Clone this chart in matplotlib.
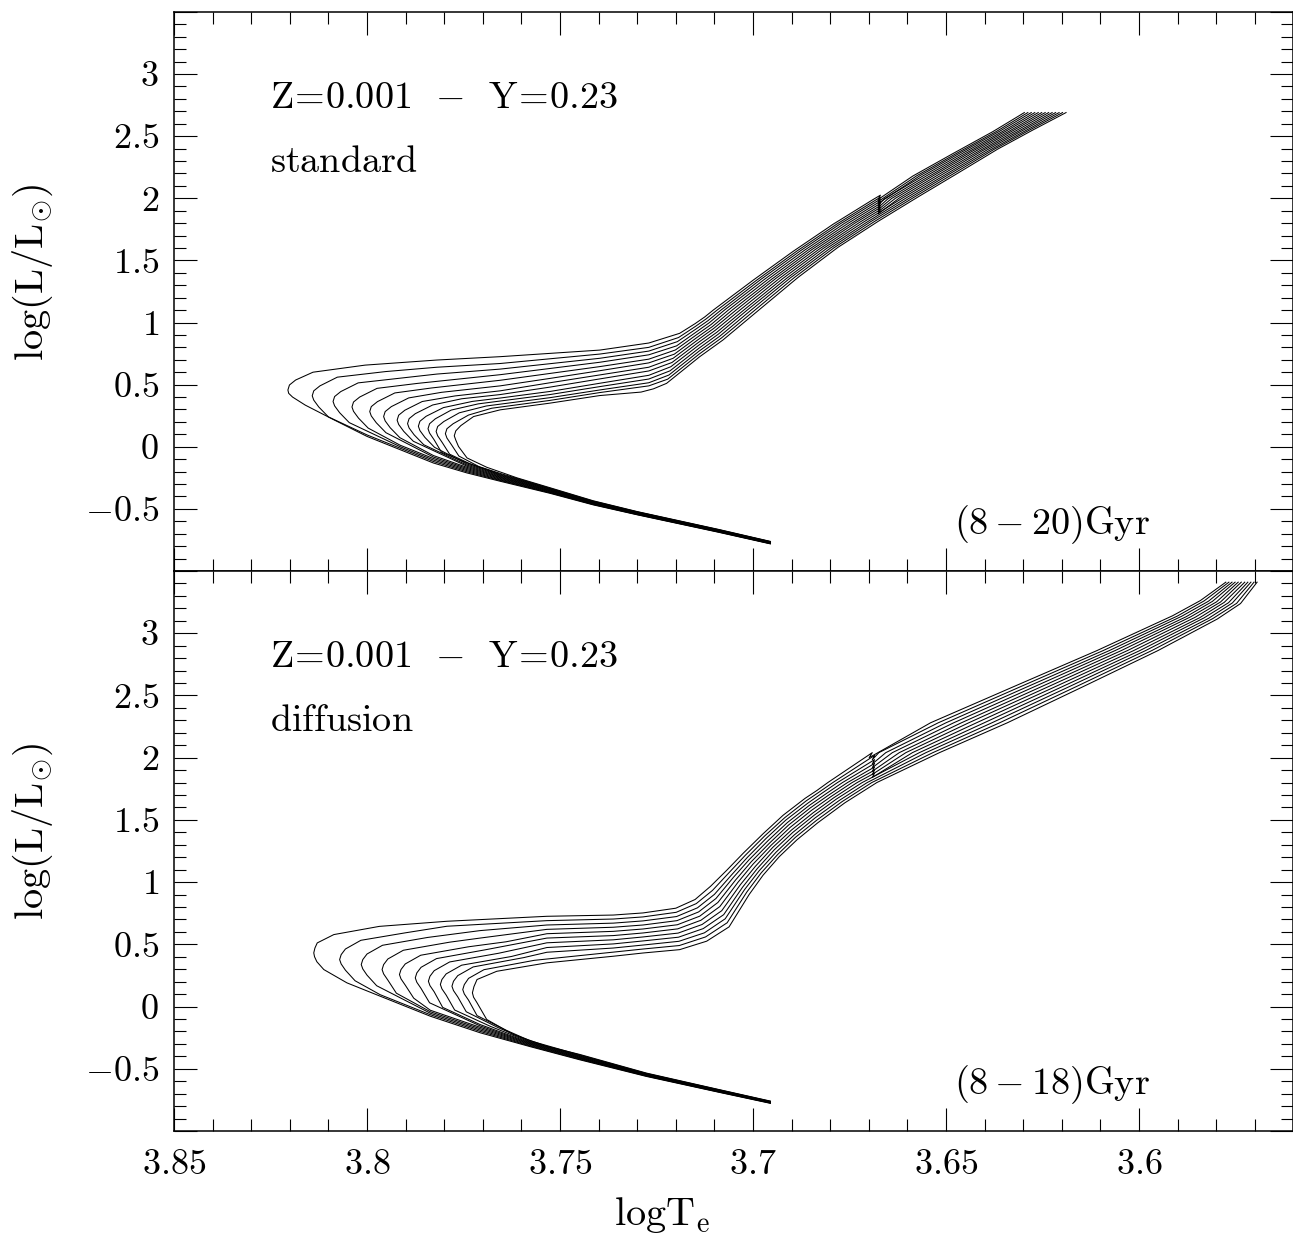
import matplotlib
matplotlib.use("Agg")
import matplotlib.pyplot as plt
from matplotlib.ticker import FixedLocator, FixedFormatter, MultipleLocator

plt.rcParams["mathtext.fontset"] = "cm"
plt.rcParams["font.family"] = "serif"
plt.rcParams["font.serif"] = ["cmr10", "DejaVu Serif"]
plt.rcParams["axes.unicode_minus"] = False

# isochrones: (logTe, log L/Lsun), young -> old
std_ages = [8, 9, 10, 11, 12, 13, 14, 15, 16, 17, 18, 19, 20]
std_tracks = [
    [(3.6955, -0.782), (3.709, -0.688), (3.730, -0.548), (3.7414, -0.468), (3.7526, -0.375), (3.7655, -0.278),
     (3.7741, -0.211), (3.7828, -0.131), (3.7914, -0.024), (3.8000, 0.083), (3.8086, 0.217), (3.8160, 0.335),
     (3.8193, 0.400), (3.8203, 0.430), (3.8205, 0.457), (3.8201, 0.497), (3.8185, 0.537), (3.8140, 0.600),
     (3.8005, 0.657), (3.7819, 0.698), (3.7655, 0.725), (3.7397, 0.778), (3.7270, 0.835), (3.7190, 0.913),
     (3.7150, 0.991), (3.7125, 1.045), (3.7103, 1.100), (3.7000, 1.340), (3.6896, 1.573), (3.6793, 1.790),
     (3.6689, 1.990), (3.6670, 2.025), (3.6676, 1.990), (3.6586, 2.179), (3.6482, 2.360), (3.6379, 2.536),
     (3.6297, 2.69)],
    [(3.6955, -0.780), (3.709, -0.686), (3.730, -0.546), (3.7414, -0.465), (3.7526, -0.371), (3.7655, -0.272),
     (3.7741, -0.202), (3.7828, -0.119), (3.7914, -0.012), (3.8000, 0.095), (3.8100, 0.240), (3.8125, 0.320),
     (3.8138, 0.375), (3.8142, 0.410), (3.8138, 0.450), (3.8122, 0.490), (3.8077, 0.560), (3.7952, 0.605),
     (3.7819, 0.640), (3.7655, 0.670), (3.7397, 0.746), (3.7270, 0.800), (3.7193, 0.879), (3.7149, 0.969),
     (3.7121, 1.030), (3.7093, 1.100), (3.6990, 1.342), (3.6886, 1.576), (3.6783, 1.792), (3.6679, 1.992),
     (3.6670, 2.008), (3.6676, 1.973), (3.6576, 2.181), (3.6472, 2.363), (3.6370, 2.537), (3.6288, 2.69)],
    [(3.6955, -0.779), (3.709, -0.684), (3.730, -0.544), (3.7414, -0.463), (3.7526, -0.368), (3.7655, -0.267),
     (3.7741, -0.193), (3.7828, -0.107), (3.7914, 0.000), (3.8046, 0.194), (3.8071, 0.274), (3.8084, 0.329),
     (3.8088, 0.364), (3.8084, 0.404), (3.8068, 0.444), (3.8023, 0.514), (3.7908, 0.554), (3.7819, 0.585),
     (3.7655, 0.625), (3.7397, 0.712), (3.7270, 0.770), (3.7196, 0.846), (3.7148, 0.947), (3.7117, 1.014),
     (3.7083, 1.100), (3.6981, 1.344), (3.6877, 1.578), (3.6774, 1.794), (3.6670, 1.993), (3.6676, 1.958),
     (3.6567, 2.183), (3.6463, 2.366), (3.6362, 2.538), (3.6279, 2.69)],
    [(3.6955, -0.777), (3.709, -0.682), (3.730, -0.541), (3.7414, -0.460), (3.7526, -0.364), (3.7655, -0.261),
     (3.7741, -0.184), (3.7828, -0.095), (3.7914, 0.012), (3.7997, 0.150), (3.8022, 0.230), (3.8035, 0.285),
     (3.8039, 0.320), (3.8035, 0.360), (3.8019, 0.400), (3.7974, 0.470), (3.7869, 0.510), (3.7655, 0.580),
     (3.7397, 0.680), (3.7270, 0.740), (3.7198, 0.812), (3.7147, 0.924), (3.7113, 0.999), (3.7074, 1.100),
     (3.6971, 1.346), (3.6867, 1.581), (3.6764, 1.796), (3.6670, 1.976), (3.6676, 1.941), (3.6660, 1.995),
     (3.6557, 2.185), (3.6453, 2.369), (3.6353, 2.539), (3.6270, 2.69)],
    [(3.6955, -0.775), (3.709, -0.680), (3.730, -0.539), (3.7414, -0.457), (3.7526, -0.360), (3.7655, -0.255),
     (3.7741, -0.175), (3.7828, -0.083), (3.7951, 0.113), (3.7976, 0.193), (3.7989, 0.248), (3.7993, 0.283),
     (3.7989, 0.323), (3.7973, 0.363), (3.7928, 0.433), (3.7833, 0.473), (3.7655, 0.535), (3.7526, 0.590),
     (3.7397, 0.645), (3.7270, 0.705), (3.7201, 0.779), (3.7146, 0.902), (3.7109, 0.983), (3.7064, 1.100),
     (3.6961, 1.348), (3.6857, 1.584), (3.6754, 1.798), (3.6670, 1.959), (3.6676, 1.924), (3.6650, 1.997),
     (3.6547, 2.187), (3.6443, 2.372), (3.6345, 2.540), (3.6261, 2.69)],
    [(3.6955, -0.774), (3.709, -0.678), (3.730, -0.537), (3.7414, -0.454), (3.7526, -0.356), (3.7655, -0.249),
     (3.7741, -0.166), (3.7828, -0.071), (3.7915, 0.073), (3.7940, 0.153), (3.7953, 0.208), (3.7957, 0.243),
     (3.7953, 0.283), (3.7937, 0.323), (3.7892, 0.393), (3.7807, 0.438), (3.7655, 0.490), (3.7526, 0.550),
     (3.7397, 0.612), (3.7270, 0.675), (3.7204, 0.745), (3.7145, 0.880), (3.7105, 0.968), (3.7054, 1.100),
     (3.6951, 1.350), (3.6848, 1.586), (3.6744, 1.800), (3.6670, 1.942), (3.6676, 1.907), (3.6641, 1.998),
     (3.6537, 2.189), (3.6434, 2.375), (3.6336, 2.541), (3.6252, 2.69)],
    [(3.6955, -0.772), (3.709, -0.677), (3.730, -0.535), (3.7414, -0.452), (3.7526, -0.353), (3.7655, -0.244),
     (3.7741, -0.157), (3.7880, 0.044), (3.7905, 0.124), (3.7918, 0.179), (3.7922, 0.214), (3.7918, 0.254),
     (3.7902, 0.294), (3.7857, 0.364), (3.7772, 0.409), (3.7655, 0.450), (3.7526, 0.515), (3.7397, 0.578),
     (3.7270, 0.640), (3.7207, 0.712), (3.7144, 0.858), (3.7102, 0.952), (3.7044, 1.100), (3.6942, 1.352),
     (3.6838, 1.589), (3.6735, 1.802), (3.6670, 1.926), (3.6676, 1.891), (3.6631, 2.000), (3.6528, 2.191),
     (3.6424, 2.378), (3.6328, 2.542), (3.6243, 2.69)],
    [(3.6955, -0.770), (3.709, -0.675), (3.730, -0.533), (3.7414, -0.449), (3.7526, -0.349), (3.7655, -0.238),
     (3.7741, -0.148), (3.7853, 0.016), (3.7878, 0.096), (3.7891, 0.151), (3.7895, 0.186), (3.7891, 0.226),
     (3.7875, 0.266), (3.7830, 0.336), (3.7755, 0.386), (3.7655, 0.420), (3.7526, 0.480), (3.7397, 0.546),
     (3.7270, 0.610), (3.7210, 0.678), (3.7143, 0.836), (3.7098, 0.937), (3.7034, 1.100), (3.6932, 1.354),
     (3.6828, 1.592), (3.6725, 1.804), (3.6670, 1.909), (3.6676, 1.874), (3.6621, 2.002), (3.6518, 2.193),
     (3.6414, 2.381), (3.6319, 2.543), (3.6234, 2.69)],
    [(3.6955, -0.769), (3.709, -0.673), (3.730, -0.530), (3.7414, -0.446), (3.7526, -0.345), (3.7655, -0.232),
     (3.7741, -0.139), (3.7825, -0.005), (3.7850, 0.075), (3.7863, 0.130), (3.7867, 0.165), (3.7863, 0.205),
     (3.7847, 0.245), (3.7802, 0.315), (3.7727, 0.365), (3.7655, 0.392), (3.7526, 0.445), (3.7397, 0.511),
     (3.7270, 0.575), (3.7213, 0.644), (3.7142, 0.814), (3.7094, 0.921), (3.7024, 1.100), (3.6922, 1.356),
     (3.6819, 1.594), (3.6715, 1.806), (3.6612, 2.003), (3.6508, 2.195), (3.6405, 2.384), (3.6310, 2.544),
     (3.6225, 2.69)],
    [(3.6955, -0.767), (3.709, -0.671), (3.730, -0.528), (3.7414, -0.443), (3.7526, -0.341), (3.7655, -0.227),
     (3.7741, -0.130), (3.7807, -0.045), (3.7826, 0.055), (3.7838, 0.110), (3.7842, 0.145), (3.7838, 0.185),
     (3.7823, 0.225), (3.7782, 0.295), (3.7712, 0.345), (3.7526, 0.420), (3.7397, 0.484), (3.7270, 0.545),
     (3.7215, 0.611), (3.7141, 0.791), (3.7090, 0.906), (3.7015, 1.100), (3.6912, 1.358), (3.6809, 1.597),
     (3.6705, 1.808), (3.6602, 2.005), (3.6498, 2.197), (3.6395, 2.387), (3.6302, 2.545), (3.6216, 2.69)],
    [(3.6955, -0.765), (3.709, -0.669), (3.730, -0.526), (3.7414, -0.441), (3.7526, -0.338), (3.7655, -0.221),
     (3.7735, -0.135), (3.7786, -0.060), (3.7805, 0.033), (3.7817, 0.088), (3.7821, 0.123), (3.7817, 0.163),
     (3.7801, 0.203), (3.7761, 0.273), (3.7691, 0.328), (3.7526, 0.395), (3.7397, 0.457), (3.7270, 0.515),
     (3.7218, 0.577), (3.7140, 0.769), (3.7086, 0.890), (3.7005, 1.100), (3.6903, 1.360), (3.6799, 1.600),
     (3.6696, 1.810), (3.6592, 2.007), (3.6489, 2.199), (3.6385, 2.390), (3.6293, 2.546), (3.6207, 2.69)],
    [(3.6955, -0.764), (3.709, -0.667), (3.730, -0.524), (3.7414, -0.438), (3.7526, -0.334), (3.7655, -0.215),
     (3.7710, -0.160), (3.7762, -0.075), (3.7781, 0.015), (3.7793, 0.070), (3.7797, 0.105), (3.7793, 0.145),
     (3.7777, 0.185), (3.7737, 0.255), (3.7677, 0.310), (3.7526, 0.373), (3.7397, 0.436), (3.7270, 0.490),
     (3.7221, 0.544), (3.7139, 0.747), (3.7082, 0.875), (3.6995, 1.100), (3.6893, 1.362), (3.6790, 1.602),
     (3.6686, 1.812), (3.6583, 2.008), (3.6479, 2.201), (3.6376, 2.393), (3.6285, 2.547), (3.6198, 2.69)],
    [(3.6955, -0.762), (3.709, -0.665), (3.730, -0.522), (3.7414, -0.435), (3.7526, -0.330), (3.7612, -0.250),
     (3.7690, -0.165), (3.7741, -0.090), (3.7763, 0.002), (3.7770, 0.053), (3.7774, 0.088), (3.7770, 0.128),
     (3.7757, 0.170), (3.7724, 0.243), (3.7655, 0.297), (3.7526, 0.351), (3.7397, 0.412), (3.7290, 0.440),
     (3.7258, 0.466), (3.7224, 0.510), (3.7138, 0.725), (3.7078, 0.859), (3.6985, 1.100), (3.6883, 1.364),
     (3.6780, 1.605), (3.6676, 1.814), (3.6573, 2.010), (3.6469, 2.203), (3.6366, 2.396), (3.6276, 2.548),
     (3.6189, 2.69)],
]

dif_ages = [8, 9, 10, 11, 12, 13, 14, 15, 16, 17, 18]
dif_tracks = [
    [(3.6955, -0.778), (3.709, -0.688), (3.7276, -0.562), (3.7449, -0.428), (3.7578, -0.322), (3.7707, -0.211),
     (3.7836, -0.078), (3.7966, 0.083), (3.8052, 0.190), (3.8112, 0.297), (3.8130, 0.360), (3.8136, 0.400),
     (3.8138, 0.431), (3.8135, 0.470), (3.8129, 0.511), (3.8086, 0.578), (3.7968, 0.644), (3.7793, 0.685),
     (3.7534, 0.725), (3.7362, 0.735), (3.7285, 0.752), (3.7200, 0.790), (3.7150, 0.860), (3.7110, 0.966),
     (3.7068, 1.095), (3.7025, 1.233), (3.6974, 1.388), (3.6922, 1.537), (3.6865, 1.673), (3.6834, 1.737),
     (3.6806, 1.800), (3.6691, 2.040), (3.6699, 2.000), (3.6540, 2.280), (3.6325, 2.570), (3.6109, 2.860),
     (3.5913, 3.140), (3.5841, 3.262), (3.5775, 3.41)],
    [(3.6955, -0.776), (3.709, -0.686), (3.7276, -0.559), (3.7449, -0.424), (3.7578, -0.317), (3.7707, -0.200),
     (3.7836, -0.066), (3.7966, 0.095), (3.8031, 0.207), (3.8056, 0.292), (3.8067, 0.342), (3.8071, 0.377),
     (3.8067, 0.417), (3.8056, 0.462), (3.8016, 0.532), (3.7901, 0.592), (3.7793, 0.645), (3.7534, 0.690),
     (3.7362, 0.703), (3.7285, 0.720), (3.7199, 0.757), (3.7147, 0.827), (3.7105, 0.933), (3.7062, 1.076),
     (3.7020, 1.215), (3.6970, 1.370), (3.6918, 1.517), (3.6862, 1.653), (3.6827, 1.727), (3.6793, 1.800),
     (3.6685, 2.018), (3.6691, 1.983), (3.6674, 2.040), (3.6520, 2.280), (3.6307, 2.570), (3.6093, 2.860),
     (3.5901, 3.137), (3.5831, 3.260), (3.5767, 3.41)],
    [(3.6955, -0.774), (3.709, -0.684), (3.7276, -0.557), (3.7449, -0.419), (3.7578, -0.312), (3.7707, -0.189),
     (3.7836, -0.054), (3.7975, 0.167), (3.8000, 0.252), (3.8011, 0.302), (3.8015, 0.337), (3.8011, 0.377),
     (3.8000, 0.422), (3.7960, 0.492), (3.7843, 0.555), (3.7707, 0.610), (3.7534, 0.655), (3.7362, 0.670),
     (3.7285, 0.688), (3.7198, 0.723), (3.7144, 0.793), (3.7100, 0.901), (3.7056, 1.056), (3.7015, 1.197),
     (3.6966, 1.351), (3.6915, 1.498), (3.6858, 1.634), (3.6820, 1.717), (3.6781, 1.800), (3.6685, 1.984),
     (3.6691, 1.949), (3.6656, 2.040), (3.6500, 2.280), (3.6289, 2.570), (3.6077, 2.860), (3.5890, 3.135),
     (3.5820, 3.257), (3.5759, 3.41)],
    [(3.6955, -0.773), (3.709, -0.681), (3.7276, -0.554), (3.7449, -0.415), (3.7578, -0.306), (3.7707, -0.178),
     (3.7836, -0.042), (3.7924, 0.107), (3.7946, 0.212), (3.7957, 0.262), (3.7961, 0.297), (3.7957, 0.337),
     (3.7946, 0.382), (3.7906, 0.452), (3.7786, 0.517), (3.7707, 0.550), (3.7534, 0.620), (3.7362, 0.637),
     (3.7285, 0.655), (3.7197, 0.690), (3.7141, 0.760), (3.7096, 0.868), (3.7051, 1.037), (3.7010, 1.180),
     (3.6961, 1.333), (3.6911, 1.478), (3.6855, 1.614), (3.6812, 1.707), (3.6768, 1.800), (3.6685, 1.954),
     (3.6691, 1.919), (3.6639, 2.040), (3.6480, 2.280), (3.6271, 2.570), (3.6062, 2.860), (3.5878, 3.132),
     (3.5810, 3.255), (3.5751, 3.41)],
    [(3.6955, -0.771), (3.709, -0.679), (3.7276, -0.551), (3.7449, -0.411), (3.7578, -0.301), (3.7707, -0.167),
     (3.7836, -0.030), (3.7879, 0.067), (3.7901, 0.172), (3.7912, 0.222), (3.7916, 0.257), (3.7912, 0.297),
     (3.7901, 0.342), (3.7861, 0.412), (3.7737, 0.480), (3.7640, 0.520), (3.7534, 0.585), (3.7362, 0.604),
     (3.7285, 0.623), (3.7196, 0.657), (3.7138, 0.726), (3.7091, 0.836), (3.7045, 1.017), (3.7005, 1.162),
     (3.6957, 1.314), (3.6908, 1.458), (3.6852, 1.595), (3.6805, 1.697), (3.6755, 1.800), (3.6685, 1.925),
     (3.6691, 1.890), (3.6621, 2.040), (3.6460, 2.280), (3.6253, 2.570), (3.6046, 2.860), (3.5867, 3.130),
     (3.5799, 3.252), (3.5743, 3.41)],
    [(3.6955, -0.769), (3.709, -0.677), (3.7276, -0.549), (3.7449, -0.407), (3.7578, -0.296), (3.7707, -0.156),
     (3.7838, 0.030), (3.7860, 0.145), (3.7871, 0.195), (3.7875, 0.230), (3.7871, 0.270), (3.7860, 0.315),
     (3.7820, 0.385), (3.7695, 0.455), (3.7534, 0.550), (3.7362, 0.570), (3.7285, 0.591), (3.7195, 0.624),
     (3.7135, 0.693), (3.7086, 0.803), (3.7039, 0.998), (3.7000, 1.144), (3.6953, 1.296), (3.6904, 1.439),
     (3.6849, 1.575), (3.6798, 1.687), (3.6743, 1.800), (3.6685, 1.900), (3.6691, 1.865), (3.6604, 2.040),
     (3.6441, 2.280), (3.6235, 2.570), (3.6030, 2.860), (3.5855, 3.127), (3.5789, 3.250), (3.5735, 3.41)],
    [(3.6955, -0.767), (3.709, -0.675), (3.7276, -0.546), (3.7449, -0.402), (3.7578, -0.291), (3.7707, -0.145),
     (3.7804, -0.007), (3.7826, 0.118), (3.7837, 0.168), (3.7841, 0.203), (3.7837, 0.243), (3.7826, 0.288),
     (3.7786, 0.358), (3.7659, 0.428), (3.7534, 0.512), (3.7362, 0.536), (3.7285, 0.559), (3.7194, 0.590),
     (3.7132, 0.659), (3.7081, 0.770), (3.7033, 0.978), (3.6994, 1.126), (3.6949, 1.278), (3.6900, 1.419),
     (3.6845, 1.555), (3.6791, 1.677), (3.6730, 1.800), (3.6685, 1.876), (3.6691, 1.841), (3.6587, 2.040),
     (3.6421, 2.280), (3.6217, 2.570), (3.6014, 2.860), (3.5843, 3.124), (3.5779, 3.248), (3.5726, 3.41)],
    [(3.6955, -0.765), (3.709, -0.673), (3.7276, -0.543), (3.7449, -0.398), (3.7578, -0.286), (3.7680, -0.160),
     (3.7773, -0.028), (3.7795, 0.092), (3.7806, 0.142), (3.7810, 0.177), (3.7806, 0.217), (3.7795, 0.262),
     (3.7755, 0.332), (3.7626, 0.402), (3.7534, 0.474), (3.7362, 0.503), (3.7285, 0.527), (3.7193, 0.557),
     (3.7129, 0.626), (3.7076, 0.738), (3.7027, 0.959), (3.6989, 1.108), (3.6945, 1.259), (3.6897, 1.399),
     (3.6842, 1.536), (3.6784, 1.667), (3.6717, 1.800), (3.6569, 2.040), (3.6401, 2.280), (3.6199, 2.570),
     (3.5998, 2.860), (3.5832, 3.122), (3.5768, 3.245), (3.5718, 3.41)],
    [(3.6955, -0.764), (3.709, -0.670), (3.7276, -0.540), (3.7449, -0.394), (3.7578, -0.281), (3.7660, -0.170),
     (3.7743, -0.042), (3.7765, 0.078), (3.7776, 0.128), (3.7780, 0.163), (3.7776, 0.203), (3.7765, 0.248),
     (3.7725, 0.318), (3.7594, 0.393), (3.7534, 0.436), (3.7362, 0.470), (3.7285, 0.494), (3.7192, 0.524),
     (3.7126, 0.592), (3.7072, 0.705), (3.7022, 0.939), (3.6984, 1.091), (3.6940, 1.241), (3.6893, 1.379),
     (3.6839, 1.516), (3.6776, 1.657), (3.6704, 1.800), (3.6552, 2.040), (3.6381, 2.280), (3.6181, 2.570),
     (3.5983, 2.860), (3.5820, 3.119), (3.5758, 3.243), (3.5710, 3.41)],
    [(3.6955, -0.762), (3.709, -0.668), (3.7276, -0.538), (3.7449, -0.389), (3.7578, -0.275), (3.7640, -0.190),
     (3.7715, -0.073), (3.7737, 0.051), (3.7748, 0.101), (3.7752, 0.136), (3.7748, 0.176), (3.7737, 0.226),
     (3.7697, 0.296), (3.7567, 0.371), (3.7362, 0.437), (3.7285, 0.462), (3.7191, 0.490), (3.7123, 0.559),
     (3.7067, 0.673), (3.7016, 0.920), (3.6979, 1.073), (3.6936, 1.222), (3.6890, 1.360), (3.6835, 1.497),
     (3.6769, 1.647), (3.6692, 1.800), (3.6534, 2.040), (3.6361, 2.280), (3.6163, 2.570), (3.5967, 2.860),
     (3.5809, 3.117), (3.5747, 3.240), (3.5702, 3.41)],
    [(3.6955, -0.760), (3.709, -0.666), (3.7276, -0.535), (3.7449, -0.385), (3.7534, -0.320), (3.7621, -0.225),
     (3.7690, -0.104), (3.7715, 0.030), (3.7724, 0.075), (3.7727, 0.110), (3.7723, 0.160), (3.7715, 0.217),
     (3.7664, 0.283), (3.7534, 0.351), (3.7362, 0.404), (3.7285, 0.430), (3.7190, 0.457), (3.7120, 0.525),
     (3.7062, 0.640), (3.7010, 0.900), (3.6974, 1.055), (3.6932, 1.204), (3.6886, 1.340), (3.6832, 1.477),
     (3.6762, 1.637), (3.6679, 1.800), (3.6517, 2.040), (3.6341, 2.280), (3.6145, 2.570), (3.5951, 2.860),
     (3.5797, 3.114), (3.5737, 3.238), (3.5694, 3.41)],
]

x_ticks = [3.85, 3.8, 3.75, 3.7, 3.65, 3.6]
x_labels = ["3.85", "3.8", "3.75", "3.7", "3.65", "3.6"]
y_ticks = [-1, -0.5, 0, 0.5, 1, 1.5, 2, 2.5, 3, 3.5]
y_labels = ["", "-0.5", "0", "0.5", "1", "1.5", "2", "2.5", "3", ""]

mix_text = r"$\mathrm{Z\!=\!0.001\ \,-\ \,Y\!=\!0.23}$"
panel_kind = ["standard", "diffusion"]
panel_ages = [r"$\mathrm{(8-20)Gyr}$", r"$\mathrm{(8-18)Gyr}$"]

fig = plt.figure(figsize=(12.93, 12.45), dpi=100)
ax_top = fig.add_axes([0.1346, 0.5414, 0.8657, 0.4490])
ax_bot = fig.add_axes([0.1346, 0.0916, 0.8657, 0.4498])

for k, (ax, tracks) in enumerate([(ax_top, std_tracks), (ax_bot, dif_tracks)]):
    for tr in tracks:
        xs = [p[0] for p in tr]
        ys = [p[1] for p in tr]
        ax.plot(xs, ys, color="black", lw=0.75)

    ax.set_xlim(3.85, 3.56)
    ax.set_ylim(-1.0, 3.5)

    ax.xaxis.set_major_locator(FixedLocator(x_ticks))
    ax.xaxis.set_minor_locator(MultipleLocator(0.01))
    ax.yaxis.set_major_locator(FixedLocator(y_ticks))
    ax.yaxis.set_major_formatter(FixedFormatter(["$%s$" % s if s else "" for s in y_labels]))
    ax.yaxis.set_minor_locator(MultipleLocator(0.1))
    if k == 1:
        ax.xaxis.set_major_formatter(FixedFormatter(["$%s$" % s for s in x_labels]))
    else:
        ax.tick_params(axis="x", labelbottom=False)

    ax.tick_params(which="both", direction="in", top=True, right=True, width=0.8, colors="black")
    ax.tick_params(which="major", length=16.5, labelsize=26)
    ax.tick_params(which="minor", length=8.5)
    ax.tick_params(axis="x", pad=13)
    ax.tick_params(axis="y", pad=11)
    for sp in ax.spines.values():
        sp.set_linewidth(1.1)

    ax.set_ylabel(r"$\mathrm{log(L/L_{\odot})}$", fontsize=29)
    ax.yaxis.set_label_coords(-0.106, 0.535)

    ax.text(0.086, 0.828, mix_text, transform=ax.transAxes, fontsize=27.5, ha="left", va="baseline")
    ax.text(0.086, 0.714, r"$\mathrm{%s}$" % panel_kind[k], transform=ax.transAxes, fontsize=27.5,
            ha="left", va="baseline")
    ax.text(0.697, 0.066, panel_ages[k], transform=ax.transAxes, fontsize=27.5, ha="left", va="baseline")

fig.text(0.512, 0.024, r"$\mathrm{logT_e}$", fontsize=29, ha="center", va="center")

fig.savefig("out.png", dpi=100)
